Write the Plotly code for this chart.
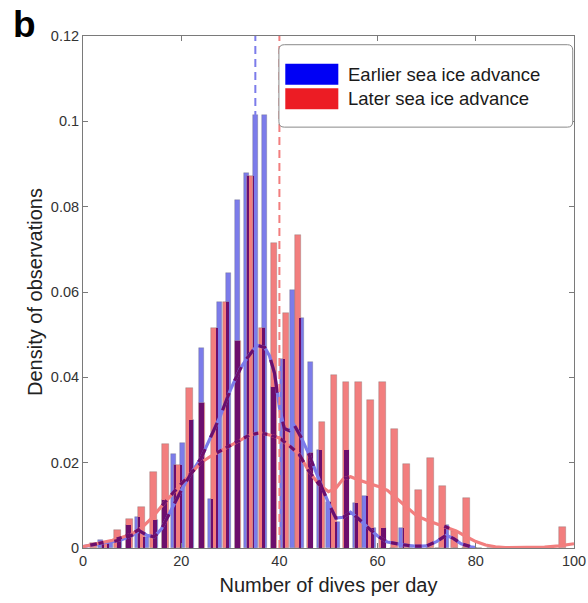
import numpy as np
import plotly.graph_objects as go

# ---------------- data ----------------
earlier_first_center = 3.66      # centre of first "earlier" bin (dives/day)
earlier_bin_width = 1.853
earlier_density = [0.0018, 0.0014, 0.0025, 0.0054, 0.0073, 0.0026, 0.0066, 0.0112, 0.0220, 0.0245,
                   0.0300, 0.0469, 0.0115, 0.0577, 0.0645, 0.0816, 0.0879, 0.1015, 0.1015, 0.0377,
                   0.0444, 0.0605, 0.0540, 0.0436, 0.0230, 0.0108, 0.0060, 0.0230, 0.0105, 0.0122,
                   0.0048, 0.0046, 0.0, 0.0047, 0.0, 0.0, 0.0, 0.0, 0.0054, 0.0, 0.0, 0.0]

later_first_center = 2.15
later_bin_width = 2.45
later_density = [0.0012, 0.0012, 0.0042, 0.0067, 0.0095, 0.0178, 0.0244, 0.0195, 0.0376, 0.0340,
                 0.0516, 0.0577, 0.0486, 0.0872, 0.0516, 0.0715, 0.0550, 0.0734, 0.0222, 0.0295,
                 0.0405, 0.0390, 0.0390, 0.0346, 0.0390, 0.0280, 0.0197, 0.0136, 0.0211, 0.0145,
                 0.0040, 0.0117, 0.0, 0.0, 0.0, 0.0, 0.0, 0.0, 0.0, 0.0049]

bar_fill_fraction = 0.55

earlier_kde_x = [0, 2, 4, 6, 8, 10, 11.5, 13, 14.5, 16, 18, 20, 22, 24, 26, 28, 30, 32, 34, 35.5,
                 37, 38, 39, 40, 41, 42, 43, 44, 46, 48, 50, 51.5, 53, 54.5, 56, 58, 60, 62, 64,
                 66, 68, 70, 72, 74, 75.5, 77, 79, 80]
earlier_kde_y = [0.0003, 0.0008, 0.0012, 0.0015, 0.002, 0.003, 0.004, 0.003, 0.0026, 0.0045,
                 0.009, 0.0135, 0.0175, 0.021, 0.026, 0.031, 0.037, 0.042, 0.0455, 0.0475,
                 0.047, 0.045, 0.041, 0.033, 0.028, 0.0275, 0.0288, 0.027, 0.022, 0.016,
                 0.0105, 0.007, 0.0072, 0.0084, 0.007, 0.0048, 0.0028, 0.0014, 0.001,
                 0.0006, 0.0004, 0.0005, 0.0015, 0.003, 0.0022, 0.001, 0.0003, 0.0001]

later_kde_x = [0, 3, 6, 8, 10, 12, 14, 16, 18, 20, 22, 24, 26, 28, 30, 32, 34, 36, 38, 40, 42, 44,
               46, 48, 50, 51.5, 53, 54.5, 56, 58, 60, 62, 64, 66, 68, 70, 72, 74, 76, 78, 80, 82,
               84, 86, 90, 94, 97, 100]
later_kde_y = [0.0003, 0.001, 0.0018, 0.0025, 0.0033, 0.0048, 0.007, 0.0098, 0.0125, 0.015,
               0.0175, 0.02, 0.0215, 0.0228, 0.024, 0.0253, 0.0265, 0.027, 0.0265, 0.0258,
               0.024, 0.022, 0.018, 0.015, 0.0132, 0.014, 0.0162, 0.0167, 0.016, 0.0152,
               0.0145, 0.0135, 0.0115, 0.0095, 0.0075, 0.0065, 0.0057, 0.0049, 0.004, 0.0027,
               0.0015, 0.0007, 0.0003, 0.0001, 0.0001, 0.0002, 0.0005, 0.001]

earlier_mean = 35.1
later_mean = 40.0

x_ticks = [0, 20, 40, 60, 80, 100]
y_ticks = [0, 0.02, 0.04, 0.06, 0.08, 0.1, 0.12]
y_tick_text = ["0", "0.02", "0.04", "0.06", "0.08", "0.1", "0.12"]
legend_labels = ["Earlier sea ice advance", "Later sea ice advance"]

# ---------------- styling ----------------
BLUE = "rgb(124,124,234)"
RED = "rgb(242,126,126)"
PURPLE = "rgb(108,14,108)"
EDGE = "rgba(95,95,95,0.45)"
FONT = "Liberation Sans, Arial, Helvetica, sans-serif"

e_centers = [earlier_first_center + earlier_bin_width * i for i in range(len(earlier_density))]
l_centers = [later_first_center + later_bin_width * j for j in range(len(later_density))]
e_w = earlier_bin_width * bar_fill_fraction
l_w = later_bin_width * bar_fill_fraction

e_rects = [(c - e_w / 2, c + e_w / 2, h) for c, h in zip(e_centers, earlier_density) if h > 0]
l_rects = [(c - l_w / 2, c + l_w / 2, h) for c, h in zip(l_centers, later_density) if h > 0]

# overlap of the two translucent histograms (drawn dark purple)
ov_x, ov_w, ov_h = [], [], []
for a0, a1, ah in e_rects:
    for b0, b1, bh in l_rects:
        lo, hi = max(a0, b0), min(a1, b1)
        if hi > lo:
            ov_x.append((lo + hi) / 2)
            ov_w.append(hi - lo)
            ov_h.append(min(ah, bh))


def clip_segment(xa, ya, xb, yb, xmin, xmax, ymin, ymax):
    dx, dy = xb - xa, yb - ya
    t0, t1 = 0.0, 1.0
    for p, q in ((-dx, xa - xmin), (dx, xmax - xa), (-dy, ya - ymin), (dy, ymax - ya)):
        if p == 0:
            if q < 0:
                return None
        else:
            t = q / p
            if p < 0:
                if t > t1:
                    return None
                t0 = max(t0, t)
            else:
                if t < t0:
                    return None
                t1 = min(t1, t)
    if t1 - t0 <= 1e-12:
        return None
    return (xa + t0 * dx, ya + t0 * dy), (xa + t1 * dx, ya + t1 * dy)


def curve_inside(xs, ys, rects):
    ox, oy = [], []
    for x0, x1, h in rects:
        pts = []
        for k in range(len(xs) - 1):
            seg = clip_segment(xs[k], ys[k], xs[k + 1], ys[k + 1], x0, x1, 0.0, h)
            if seg is None:
                continue
            (ax, ay), (bx, by) = seg
            if pts and abs(pts[-1][0] - ax) < 1e-9 and abs(pts[-1][1] - ay) < 1e-12:
                pts.append((bx, by))
            else:
                if pts:
                    ox += [p[0] for p in pts] + [None]
                    oy += [p[1] for p in pts] + [None]
                pts = [(ax, ay), (bx, by)]
        if pts:
            ox += [p[0] for p in pts] + [None]
            oy += [p[1] for p in pts] + [None]
    return ox, oy


fig = go.Figure()
fig.add_trace(go.Bar(x=e_centers, y=earlier_density, width=e_w, marker=dict(color=BLUE, line=dict(color=EDGE, width=0.6)),
                     name=legend_labels[0], showlegend=False, hoverinfo="skip"))
fig.add_trace(go.Bar(x=l_centers, y=later_density, width=l_w, marker=dict(color=RED, line=dict(color=EDGE, width=0.6)),
                     name=legend_labels[1], showlegend=False, hoverinfo="skip"))
fig.add_trace(go.Bar(x=ov_x, y=ov_h, width=ov_w, marker=dict(color=PURPLE, line=dict(width=0)),
                     showlegend=False, hoverinfo="skip"))

fig.add_trace(go.Scatter(x=earlier_kde_x, y=earlier_kde_y, mode="lines", line=dict(color=BLUE, width=3.2),
                         showlegend=False, hoverinfo="skip"))
fig.add_trace(go.Scatter(x=later_kde_x, y=later_kde_y, mode="lines", line=dict(color=RED, width=3.2),
                         showlegend=False, hoverinfo="skip"))
bx, by = curve_inside(earlier_kde_x, earlier_kde_y, l_rects)
rx, ry = curve_inside(later_kde_x, later_kde_y, e_rects)
fig.add_trace(go.Scatter(x=bx, y=by, mode="lines", line=dict(color=PURPLE, width=3.2), connectgaps=False,
                         showlegend=False, hoverinfo="skip"))
fig.add_trace(go.Scatter(x=rx, y=ry, mode="lines", line=dict(color=PURPLE, width=3.2), connectgaps=False,
                         showlegend=False, hoverinfo="skip"))

shapes = [
    dict(type="line", xref="x", yref="y domain", x0=earlier_mean, x1=earlier_mean, y0=0, y1=1,
         line=dict(color=BLUE, width=2, dash="8px,5px"), layer="above"),
    dict(type="line", xref="x", yref="y domain", x0=later_mean, x1=later_mean, y0=0, y1=1,
         line=dict(color=RED, width=2, dash="8px,5px"), layer="above"),
]
# legend box (rounded rectangle) in axis-domain coordinates
lx0, lx1, ly0, ly1 = 0.399, 0.9974, 0.822, 0.983
rx_, ry_ = 0.011, 0.0105
path = (f"M {lx0+rx_},{ly1} L {lx1-rx_},{ly1} Q {lx1},{ly1} {lx1},{ly1-ry_} "
        f"L {lx1},{ly0+ry_} Q {lx1},{ly0} {lx1-rx_},{ly0} L {lx0+rx_},{ly0} "
        f"Q {lx0},{ly0} {lx0},{ly0+ry_} L {lx0},{ly1-ry_} Q {lx0},{ly1} {lx0+rx_},{ly1} Z")
shapes.append(dict(type="path", xref="x domain", yref="y domain", path=path,
                   fillcolor="white", line=dict(color="#8a8a8a", width=1), layer="above"))
shapes.append(dict(type="rect", xref="x domain", yref="y domain", x0=0.412, x1=0.520, y0=0.905, y1=0.946,
                   fillcolor="rgb(0,0,245)", line=dict(width=0), layer="above"))
shapes.append(dict(type="rect", xref="x domain", yref="y domain", x0=0.412, x1=0.520, y0=0.857, y1=0.898,
                   fillcolor="rgb(236,28,36)", line=dict(width=0), layer="above"))

annotations = [
    dict(text=legend_labels[0], xref="x domain", yref="y domain", x=0.535, y=0.9255, xanchor="left",
         yanchor="middle", showarrow=False, font=dict(family=FONT, size=18.5, color="#1a1a1a")),
    dict(text=legend_labels[1], xref="x domain", yref="y domain", x=0.535, y=0.8775, xanchor="left",
         yanchor="middle", showarrow=False, font=dict(family=FONT, size=18.5, color="#1a1a1a")),
    dict(text="<b>b</b>", xref="paper", yref="paper", x=-0.12, y=1.022, xanchor="center",
         yanchor="middle", showarrow=False, font=dict(family=FONT, size=37, color="black")),
]

axis_common = dict(showline=True, linecolor="#7a7a7a", linewidth=1, mirror="ticks", ticks="inside",
                   ticklen=5, tickcolor="#7a7a7a", showgrid=False, zeroline=False, automargin=False,
                   tickfont=dict(family=FONT, size=14.5, color="#333333"))

fig.update_layout(
    width=588, height=603,
    margin=dict(l=83, r=14, t=36, b=55, autoexpand=False),
    paper_bgcolor="white", plot_bgcolor="white",
    barmode="overlay", bargap=0,
    shapes=shapes, annotations=annotations, showlegend=False,
    xaxis=dict(range=[0, 100], tickvals=x_ticks, ticktext=[str(v) for v in x_ticks],
               title=dict(text="Number of dives per day", standoff=9,
                          font=dict(family=FONT, size=20, color="#222222")), **axis_common),
    yaxis=dict(range=[0, 0.12], tickvals=y_ticks, ticktext=y_tick_text,
               title=dict(text="Density of observations", standoff=2,
                          font=dict(family=FONT, size=20, color="#222222")), **axis_common),
)

fig.write_html("out.html")
